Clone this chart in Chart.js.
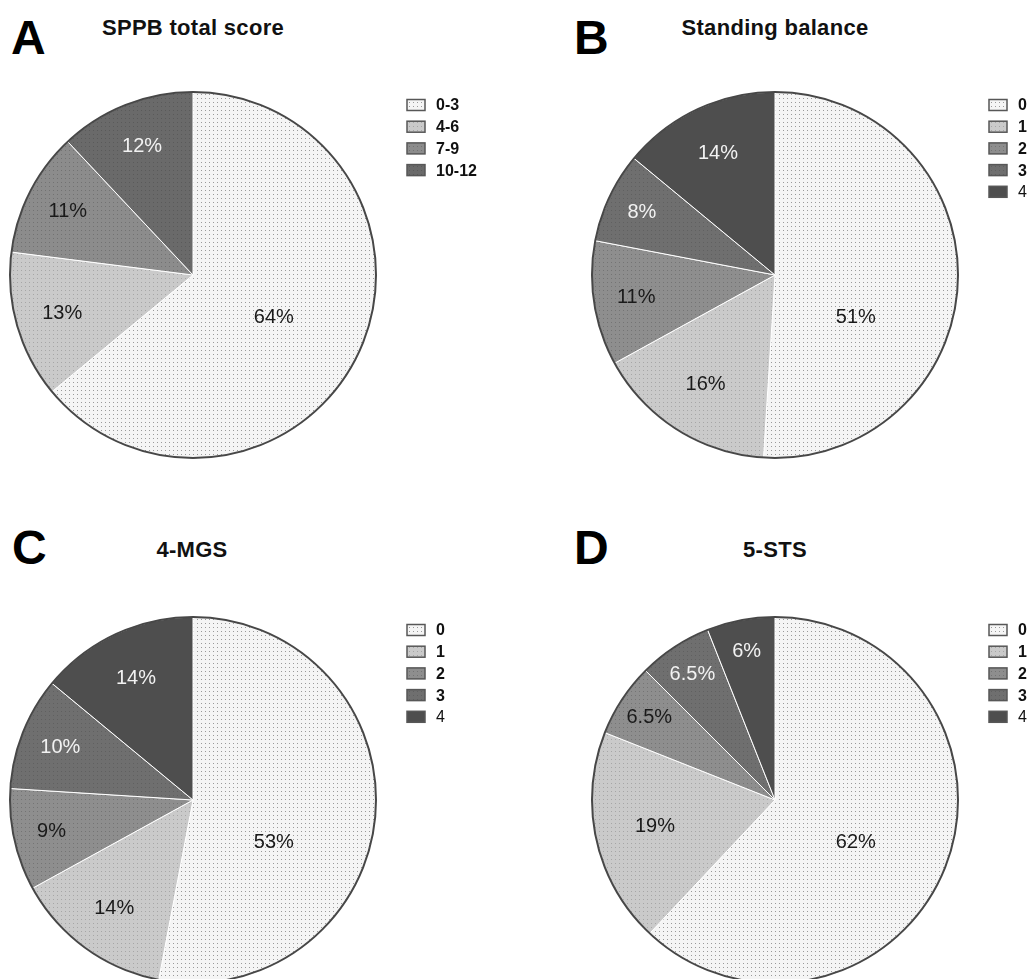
<!DOCTYPE html>
<html>
<head>
<meta charset="utf-8">
<script src="https://cdn.jsdelivr.net/npm/chart.js@4"></script>
<style>
  html, body {
    margin: 0;
    padding: 0;
    background: #fff;
    width: 1028px;
    height: 979px;
    overflow: hidden;
    position: relative;
    font-family: "Liberation Sans", Arial, sans-serif;
  }
  .letter { position: absolute; font-size: 48px; font-weight: bold; line-height: 1; color: #000; }
  .title { position: absolute; font-size: 22px; font-weight: bold; line-height: 1; color: #111; width: 400px; text-align: center; letter-spacing: 0.3px; }
  canvas { position: absolute; }
</style>
</head>
<body>

<div class="letter" style="left:11px; top:14px;">A</div>
<div class="title" style="left:-7px; top:17px;">SPPB total score</div>
<div class="letter" style="left:574px; top:14px;">B</div>
<div class="title" style="left:575px; top:17px;">Standing balance</div>
<div class="letter" style="left:12px; top:524px;">C</div>
<div class="title" style="left:-8px; top:539px;">4-MGS</div>
<div class="letter" style="left:574px; top:524px;">D</div>
<div class="title" style="left:575px; top:539px;">5-STS</div>

<canvas id="chartA" width="514" height="380" style="left:0; top:85px;"></canvas>
<canvas id="chartB" width="514" height="380" style="left:514px; top:85px;"></canvas>
<canvas id="chartC" width="514" height="380" style="left:0; top:610px;"></canvas>
<canvas id="chartD" width="514" height="380" style="left:514px; top:610px;"></canvas>

<script>
// Data (percent of participants per score category)
const sppbCategories = ['0-3', '4-6', '7-9', '10-12'];
const sppbValues = [64, 13, 11, 12];

const scoreCategories = ['0', '1', '2', '3', '4'];
const balanceValues = [51, 16, 11, 8, 14];
const mgsValues = [53, 14, 9, 10, 14];
const stsValues = [62, 19, 6.5, 6.5, 6];

// Grey shades with dotted fill, like the original figure
function makePattern(base, dot) {
    const c = document.createElement('canvas');
    c.width = 4;
    c.height = 4;
    const g = c.getContext('2d');
    g.fillStyle = base;
    g.fillRect(0, 0, 4, 4);
    if (dot) {
        g.fillStyle = dot;
        g.fillRect(1, 1, 1, 1);
    }
    return g.createPattern(c, 'repeat');
}

const fills5 = [
    makePattern('#f5f5f5', '#9a9a9a'),
    makePattern('#cacaca', '#a6a6a6'),
    makePattern('#8e8e8e', '#747474'),
    makePattern('#6f6f6f', '#606060'),
    makePattern('#4e4e4e', null)
];
const fills4 = [
    makePattern('#f5f5f5', '#9a9a9a'),
    makePattern('#cacaca', '#a6a6a6'),
    makePattern('#8c8c8c', '#727272'),
    makePattern('#6a6a6a', '#5a5a5a')
];

const darkText = '#1a1a1a';
const lightText = '#f2f2f2';

function formatPct(v) {
    return v + '%';
}

// Outer ring, slice labels and legend
const pieExtras = {
    id: 'pieExtras',
    afterDatasetsDraw(chart) {
        const ctx = chart.ctx;
        const meta = chart.getDatasetMeta(0);
        const ds = chart.data.datasets[0];
        const first = meta.data[0].getProps(['x', 'y', 'outerRadius'], true);
        const cx = first.x, cy = first.y, r = first.outerRadius;

        ctx.save();
        ctx.beginPath();
        ctx.arc(cx, cy, r, 0, Math.PI * 2);
        ctx.lineWidth = 2;
        ctx.strokeStyle = '#474747';
        ctx.stroke();

        // Percent labels: the big slice label sits low-right, small ones near the rim
        ctx.font = '20px "Liberation Sans", Arial, sans-serif';
        ctx.textAlign = 'center';
        ctx.textBaseline = 'middle';
        meta.data.forEach((arc, i) => {
            const p = arc.getProps(['startAngle', 'endAngle'], true);
            const v = ds.data[i];
            let ang = (p.startAngle + p.endAngle) / 2;
            let frac = Math.min(0.86, 0.9 - v * 0.012);
            if (v >= 30) {
                ang = -Math.PI / 2 + (118 / 180) * Math.PI;
                frac = 0.5;
            }
            ctx.fillStyle = ds.labelColors[i];
            ctx.fillText(formatPct(v), cx + Math.cos(ang) * r * frac, cy + Math.sin(ang) * r * frac);
        });

        // Legend
        const lx = cx + 214;
        const ly = cy - 170;
        const step = 21.7;
        chart.data.labels.forEach((label, i) => {
            const y = ly + i * step;
            ctx.fillStyle = ds.backgroundColor[i];
            ctx.fillRect(lx, y - 5.5, 18, 11);
            ctx.lineWidth = 1.5;
            ctx.strokeStyle = '#575757';
            ctx.strokeRect(lx, y - 5.5, 18, 11);
            const bold = !(ds.plainLast && i === chart.data.labels.length - 1);
            ctx.font = (bold ? 'bold ' : '') + '16px "Liberation Sans", Arial, sans-serif';
            ctx.fillStyle = '#111';
            ctx.textAlign = 'left';
            ctx.fillText(label, lx + 29, y + 1);
        });
        ctx.restore();
    }
};

function makePie(id, labels, values, fills, labelColors, padLeft, plainLast) {
    return new Chart(document.getElementById(id), {
        type: 'pie',
        data: {
            labels: labels,
            datasets: [{
                data: values,
                backgroundColor: fills,
                borderColor: '#ffffff',
                borderWidth: 1,
                labelColors: labelColors,
                plainLast: plainLast
            }]
        },
        options: {
            responsive: false,
            animation: false,
            radius: 183,
            layout: { padding: { left: padLeft, right: 128, top: 0, bottom: 0 } },
            plugins: {
                legend: { display: false },
                tooltip: { enabled: false }
            }
        },
        plugins: [pieExtras]
    });
}

makePie('chartA', sppbCategories, sppbValues, fills4,
    [darkText, darkText, darkText, lightText], 0, false);
makePie('chartB', scoreCategories, balanceValues, fills5,
    [darkText, darkText, darkText, lightText, lightText], 136, true);
makePie('chartC', scoreCategories, mgsValues, fills5,
    [darkText, darkText, darkText, lightText, lightText], 0, true);
makePie('chartD', scoreCategories, stsValues, fills5,
    [darkText, darkText, darkText, lightText, lightText], 136, true);
</script>
</body>
</html>
